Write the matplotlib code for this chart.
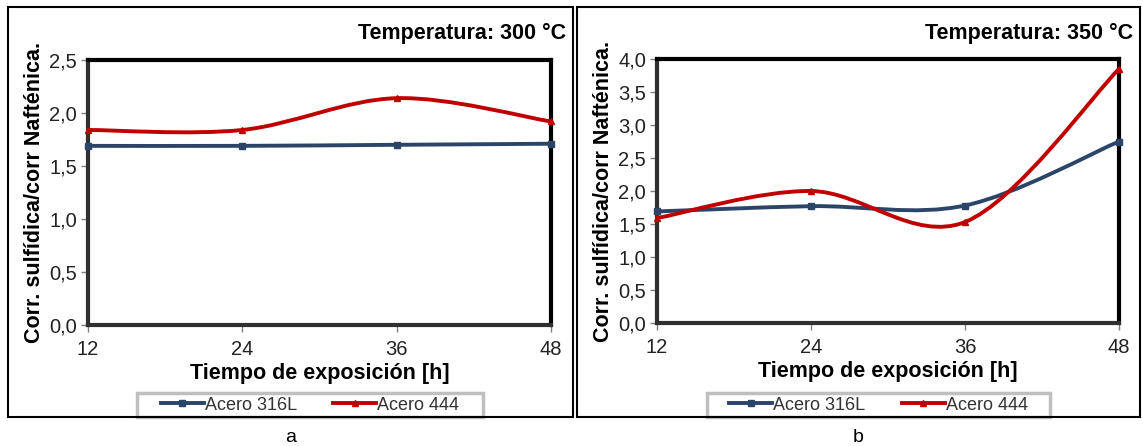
import numpy as np
import matplotlib
matplotlib.use('Agg')
import matplotlib.pyplot as plt
from matplotlib.path import Path
from matplotlib.patches import PathPatch, Rectangle
from matplotlib.lines import Line2D
from matplotlib.ticker import FuncFormatter

plt.rcParams['font.family'] = ['Liberation Sans', 'DejaVu Sans']

horas = [12, 24, 36, 48]
series_names = ['Acero 316L', 'Acero 444']

# panel a: 300 °C
a_316l = [1.69, 1.69, 1.70, 1.71]
a_444 = [1.84, 1.84, 2.14, 1.92]
# panel b: 350 °C
b_316l = [1.69, 1.77, 1.78, 2.75]
b_444 = [1.59, 2.00, 1.53, 3.85]

titles = ['Temperatura: 300 °C', 'Temperatura: 350 °C']
panel_letters = ['a', 'b']
ymax = [2.5, 4.0]

BLUE = '#2B4569'
RED = '#C00000'

W, H = 1143, 446


def px_box(left, top, right, bottom):
    return [left / W, 1 - bottom / H, (right - left) / W, (bottom - top) / H]


def px_rect(left, top, right, bottom, **kw):
    return Rectangle((left / W, 1 - bottom / H), (right - left) / W, (bottom - top) / H,
                     transform=fig.transFigure, fill=False, **kw)


def smooth_path(x, y):
    """Excel-like smoothed line: Catmull-Rom segments as cubic Bezier."""
    pts = np.column_stack([x, y]).astype(float)
    n = len(pts)
    verts = [pts[0]]
    codes = [Path.MOVETO]
    for i in range(n - 1):
        p0 = pts[i - 1] if i > 0 else pts[i]
        p1 = pts[i]
        p2 = pts[i + 1]
        p3 = pts[i + 2] if i + 2 < n else pts[i + 1]
        c1 = p1 + (p2 - p0) / 6.0
        c2 = p2 - (p3 - p1) / 6.0
        verts += [c1, c2, p2]
        codes += [Path.CURVE4] * 3
    return Path(verts, codes)


def draw_panel(fig, box, border, vals, title, letter, top, leg_box):
    ax = fig.add_axes(px_box(*box))
    for (yv, col, mk) in zip(vals, [BLUE, RED], ['s', '^']):
        patch = PathPatch(smooth_path(horas, yv), fill=False, edgecolor=col,
                          lw=2.8, clip_on=False, zorder=3, capstyle='round')
        ax.add_patch(patch)
        ax.plot(horas, yv, linestyle='none', marker=mk, color=col,
                markersize=5, clip_on=False, zorder=4)
    ax.set_xlim(12, 48)
    ax.set_ylim(0, top)
    ax.set_xticks(horas)
    ax.set_yticks(np.arange(0, top + 0.01, 0.5))
    ax.yaxis.set_major_formatter(FuncFormatter(lambda v, p: f'{v:.1f}'.replace('.', ',')))
    ax.tick_params(direction='out', length=5, width=1, color='#808080',
                   labelsize=14.5, pad=3, labelcolor='#222222')
    ax.tick_params(axis='x', pad=6)
    for s in ['top', 'right']:
        ax.spines[s].set_linewidth(3)
        ax.spines[s].set_color('black')
    for s in ['left', 'bottom']:
        ax.spines[s].set_linewidth(3)
        ax.spines[s].set_color('#303030')
    ax.set_xlabel('Tiempo de exposición [h]', fontsize=15.5, fontweight='bold', labelpad=3)
    ax.set_ylabel('Corr. sulfídica/corr Nafténica.', fontsize=15.5, fontweight='bold', labelpad=3)

    l, t, r, b = border
    # legend frame sits partly under the panel border
    ll, lt, lr, lb = leg_box
    fig.patches.append(px_rect(ll, lt, lr, lb, edgecolor='#BFBFBF', lw=2.5, zorder=5))
    fig.patches.append(px_rect(l, t, r, b, edgecolor='black', lw=1.5, zorder=10))
    fig.text((r - 7) / W, 1 - 33 / H, title, ha='right', va='center',
             fontsize=15.5, fontweight='bold')
    fig.text((l + r) / 2 / W, 1 - 437 / H, letter, ha='center', va='center', fontsize=14)

    handles = [Line2D([], [], color=BLUE, lw=2.8, marker='s', markersize=5),
               Line2D([], [], color=RED, lw=2.8, marker='^', markersize=5)]
    leg = fig.legend(handles, series_names, loc='center', ncol=2,
                     bbox_to_anchor=((ll + lr) / 2 / W, 1 - 405 / H),
                     frameon=False, fontsize=13, handlelength=2.4,
                     handletextpad=0.05, columnspacing=2.0, borderpad=0.0)
    for txt in leg.get_texts():
        txt.set_color('#333333')
    return ax


fig = plt.figure(figsize=(W / 100, H / 100), dpi=100)

draw_panel(fig, (88, 60, 551, 325), (8, 7, 573, 417), [a_316l, a_444],
           titles[0], panel_letters[0], ymax[0], (137, 393, 483, 417))
draw_panel(fig, (657, 59, 1119, 323), (577, 7, 1140, 417), [b_316l, b_444],
           titles[1], panel_letters[1], ymax[1], (707, 393, 1050, 417))

fig.savefig('out.png', dpi=100)
